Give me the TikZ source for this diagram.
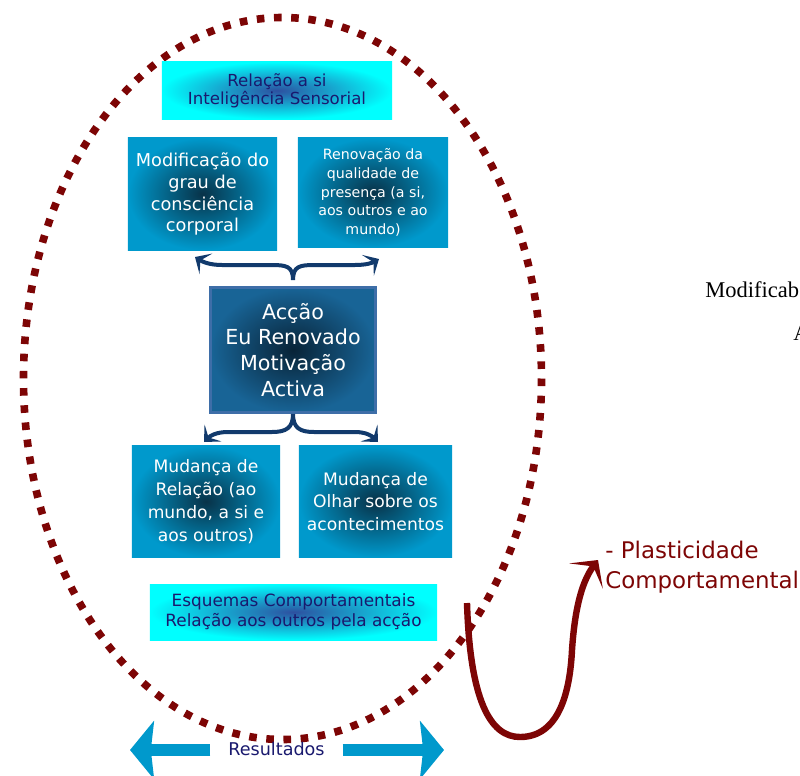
\documentclass[tikz,border=0pt]{standalone}
\usepackage{fontspec}
\setmainfont{DejaVu Sans}
\newfontfamily\serifface{Liberation Serif}
\usetikzlibrary{arrows.meta,calc}

\definecolor{boxblue}{RGB}{0,153,204}
\definecolor{boxglow}{RGB}{8,50,72}
\definecolor{cyanfill}{RGB}{0,255,255}
\definecolor{cyanglow}{RGB}{45,80,160}
\definecolor{accfill}{RGB}{24,100,150}
\definecolor{accglow}{RGB}{8,35,55}
\definecolor{accborder}{RGB}{62,110,168}
\definecolor{navytext}{RGB}{25,25,110}
\definecolor{bracenavy}{RGB}{18,58,108}
\definecolor{darkred}{RGB}{125,5,5}

\tikzset{
  bluebox/.style={rectangle, inner sep=0pt, align=center, text=white, inner color=boxglow, outer color=boxblue},
  cyanbox/.style={rectangle, inner sep=0pt, align=center, text=navytext, inner color=cyanglow, outer color=cyanfill},
  bracearm/.style={draw=bracenavy, line width=0.1cm, -{Stealth[length=0.32cm,width=0.6cm,inset=0.16cm]}},
  dotring/.style={draw=darkred, line width=0.19cm, dash pattern=on 0.19cm off 0.24cm},
  uarrow/.style={draw=darkred, line width=0.16cm, -{Stealth[length=0.5cm,width=1.05cm,inset=0.3cm]}},
  resarrow/.style={draw=boxblue, line width=0.28cm, -{Stealth[length=0.6cm,width=1.45cm,inset=0.08cm]}},
}

\begin{document}
\begin{tikzpicture}[x=0.025cm,y=-0.025cm]
\useasboundingbox (0,0) rectangle (800,775);
\clip (0,0) rectangle (800,775);

\draw[dotring] (282.5,378.5) ellipse [x radius=259, y radius=361];

\node[cyanbox, minimum width=5.75cm, minimum height=1.425cm, font=\fontsize{11.8}{12.8}\selectfont] (sens) at (277,90.5) {Relação a si\\Inteligência Sensorial};
\node[bluebox, minimum width=3.725cm, minimum height=2.8cm, font=\fontsize{12.6}{15.6}\selectfont] (mod) at (202.5,194) {Modificação do\\grau de\\consciência\\corporal};
\node[bluebox, minimum width=3.75cm, minimum height=2.725cm, font=\fontsize{10.1}{13.2}\selectfont] (ren) at (373,192.5) {Renovação da\\qualidade de\\presença (a si,\\aos outros e ao\\mundo)};
\node[bluebox, draw=accborder, line width=0.075cm, inner color=accglow, outer color=accfill, minimum width=4.125cm, minimum height=3.125cm, font=\fontsize{14.7}{18.4}\selectfont] (acc) at (293,350) {Acção\\Eu Renovado\\Motivação\\Activa};
\node[bluebox, minimum width=3.7cm, minimum height=2.775cm, font=\fontsize{12.2}{16.2}\selectfont] (mud) at (206,501.5) {Mudança de\\Relação (ao\\mundo, a si e\\aos outros)};
\node[bluebox, minimum width=3.825cm, minimum height=2.775cm, font=\fontsize{12.2}{16.2}\selectfont] (olh) at (375.5,501.5) {Mudança de\\Olhar sobre os\\acontecimentos};
\node[cyanbox, minimum width=7.175cm, minimum height=1.4cm, font=\fontsize{12}{14.2}\selectfont] (esq) at (293.5,612) {Esquemas Comportamentais\\Relação aos outros pela acção};

\coordinate (topcusp) at ([yshift=0.15cm]acc.north);
\coordinate (modtip) at (195,257);
\coordinate (rentip) at (379,259);
\draw[bracearm] (topcusp) .. controls (293,266) and (286,265) .. (271,265) -- (222,265) .. controls (210,265) and (203,262) .. (modtip);
\draw[bracearm] (topcusp) .. controls (293,266) and (300,265) .. (315,265) -- (355,265) .. controls (366,265) and (372,263) .. (rentip);

\coordinate (botcusp) at (acc.south);
\coordinate (mudtip) at (204,442);
\coordinate (olhtip) at (378,442);
\draw[bracearm] (botcusp) .. controls (293,428) and (286,432) .. (272,432) -- (228,432) .. controls (216,432) and (210,436) .. (mudtip);
\draw[bracearm] (botcusp) .. controls (293,428) and (300,432) .. (314,432) -- (355,432) .. controls (366,432) and (372,436) .. (olhtip);

\coordinate (ustart) at (467,603);
\coordinate (uend) at (598,560);
\draw[uarrow] (ustart) .. controls (470,700) and (490,737) .. (520,737) .. controls (560,737) and (570,690) .. (572,650) .. controls (575,605) and (583,580) .. (uend);
\node[anchor=west, inner sep=0pt, text=darkred, align=left, font=\fontsize{16.3}{21}\selectfont] (plast) at (605,567) {- Plasticidade\\Comportamental};

\node[anchor=base west, inner sep=0pt, font=\serifface\fontsize{16}{19}\selectfont] (modif) at (705,297) {Modificab};
\node[anchor=base west, inner sep=0pt, font=\serifface\fontsize{16}{19}\selectfont] (atext) at (793,340) {A};

\node[inner xsep=0.45cm, inner ysep=0pt, outer sep=0pt, text=navytext, font=\fontsize{12.5}{14}\selectfont] (res) at (276.5,749) {Resultados};
\coordinate (lefttip) at (130,750);
\coordinate (righttip) at (444,750);
\draw[resarrow] (res.west |- lefttip) -- (lefttip);
\draw[resarrow] (res.east |- righttip) -- (righttip);
\end{tikzpicture}
\end{document}
